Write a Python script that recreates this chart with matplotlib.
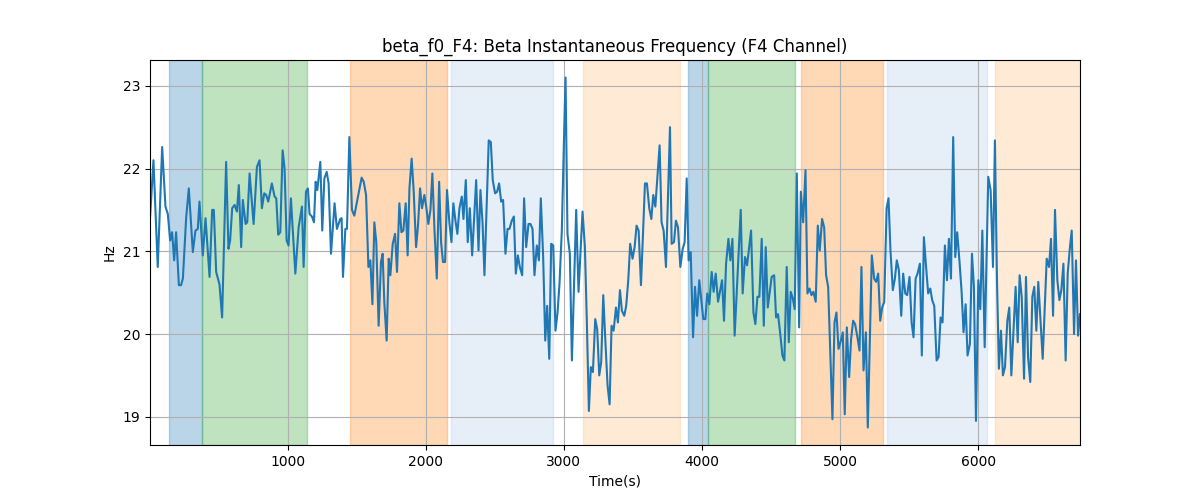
import matplotlib
matplotlib.use("Agg")
import matplotlib.pyplot as plt
import numpy as np

# Time (s) and beta instantaneous frequency (Hz)
time_s = [
    4, 29, 60, 92, 116, 133, 150, 164, 179, 193, 213, 229, 242, 266, 285, 314, 333, 350, 362, 386,
    406, 435, 454, 466, 483, 507, 526, 555, 572, 584, 599, 616, 633, 647, 664, 676, 696, 708, 725,
    754, 778, 797, 814, 831, 845, 860, 886, 906, 918, 932, 947, 964, 978, 993, 1007, 1024, 1056, 1080,
    1104, 1116, 1133, 1147, 1159, 1176, 1191, 1203, 1215, 1237, 1251, 1266, 1283, 1297, 1314, 1340,
    1357, 1381, 1391, 1401, 1418, 1430, 1447, 1466, 1483,
    1507, 1536, 1551, 1568, 1585, 1599, 1614, 1628, 1642, 1659, 1676, 1688, 1700, 1717, 1732, 1744,
    1761, 1778, 1792, 1809, 1824, 1838, 1855, 1869, 1882, 1898, 1913, 1930, 1944, 1959, 1973, 1990,
    2005, 2019, 2034, 2048, 2063, 2080, 2097, 2111, 2125, 2140, 2154, 2171, 2186, 2200, 2215, 2229, 2244,
    2261, 2273, 2290, 2304, 2319, 2336, 2365, 2382, 2396, 2411, 2425, 2456, 2471, 2485, 2502, 2517,
    2531, 2546, 2560, 2577, 2592, 2606, 2623, 2638, 2652, 2667, 2681, 2698, 2712, 2727, 2744, 2758,
    2773, 2787, 2804, 2819, 2833, 2850, 2865, 2879, 2894, 2908, 2923, 2939, 2954, 2968, 2985, 2997,
    3012,
    3026, 3043, 3058, 3089, 3106, 3135, 3152, 3166, 3181, 3195, 3210, 3227, 3241, 3256, 3270, 3285,
    3299, 3316, 3331, 3345, 3360, 3377, 3391, 3406, 3420, 3437, 3451, 3466, 3480, 3497, 3512, 3526,
    3541, 3558, 3587, 3601, 3618, 3633, 3647, 3662, 3693, 3707, 3722, 3739,
    3768,
    3780, 3797, 3811, 3826, 3843, 3860, 3874, 3889, 3903, 3918, 3935, 3949, 3964, 3980, 3995, 4009,
    4024, 4038, 4053, 4070, 4084, 4099, 4116, 4145, 4159, 4174, 4191, 4205, 4220, 4236, 4280, 4294,
    4311, 4326, 4355, 4372, 4386, 4401, 4415, 4432, 4447, 4461, 4476, 4504,
    4522, 4536, 4550, 4565, 4582, 4596, 4613, 4628, 4642, 4657, 4671, 4686, 4703, 4715, 4732, 4749,
    4763, 4778, 4792, 4806, 4823, 4838, 4852, 4869, 4884, 4898, 4913, 4927, 4944, 4959, 4973, 4988,
    5005, 5019, 5033, 5048, 5065, 5079, 5094, 5108, 5125, 5140, 5154, 5169, 5186, 5200, 5229, 5246, 5260,
    5275, 5290, 5304, 5319, 5336, 5350, 5364, 5381, 5396, 5410, 5425, 5442, 5456, 5471, 5485, 5502,
    5517, 5531, 5546, 5560, 5577, 5591, 5606, 5620, 5637, 5652, 5666, 5681, 5698, 5712, 5727, 5741,
    5758, 5773, 5787, 5802, 5818, 5833, 5847, 5864, 5879, 5893, 5908, 5922, 5939, 5954, 5968, 5983,
    6000, 6014,
    6029, 6046, 6072, 6089, 6106, 6120, 6135, 6149, 6164, 6178, 6193, 6210, 6224, 6239, 6270, 6285,
    6299, 6314, 6331, 6345, 6360, 6376, 6391, 6405, 6420, 6434, 6466, 6495, 6512, 6526, 6541, 6555,
    6572, 6587, 6601, 6616, 6632, 6647, 6661, 6676, 6693, 6707, 6722, 6736,
]

freq_hz = [
    21.4, 22.1, 20.81, 22.26, 21.54, 21.45, 21.13, 21.23, 20.89, 21.23, 20.59, 20.59, 20.67, 21.41,
    21.76, 20.99, 21.25, 21.27, 21.6, 20.95, 21.4, 20.69, 21.5, 21.5, 20.75, 20.6, 20.2, 22.08, 21.03,
    21.13, 21.52, 21.56, 21.48, 21.8, 21.05, 21.62, 21.33, 21.35, 21.94,
    21.33, 22.02, 22.1, 21.52, 21.7, 21.68, 21.6, 21.82, 21.66, 21.64, 21.2, 21.23, 22.22, 22.0, 21.13,
    21.07, 21.64, 20.73, 21.29, 21.54, 20.81, 21.72, 21.76, 21.45, 21.42, 21.35, 21.84, 21.74, 22.08,
    21.25, 21.88, 21.96, 21.82, 20.97, 21.58, 21.27, 21.39, 21.4, 20.69, 21.27, 21.27, 22.38, 21.5, 21.43,
    21.64, 21.89, 21.84, 21.68, 20.81, 20.89, 20.36, 21.35, 21.11, 20.1, 20.87, 20.97, 20.39, 19.92,
    20.91, 20.71, 21.09, 21.21, 20.75, 21.58, 21.23, 21.25, 21.58, 20.95, 21.76, 22.12, 21.72, 21.05,
    21.31, 21.76, 21.52, 21.68, 21.52, 21.33, 21.5, 21.94, 21.27, 20.67, 21.84, 21.11, 20.87, 20.87,
    21.74, 21.35, 21.11, 21.58, 21.37, 21.21, 21.52,
    21.66, 21.39, 21.86, 21.11, 21.52, 20.95, 21.86, 21.01, 21.74, 21.35, 20.71, 22.34, 22.32, 21.86,
    21.7, 21.72, 21.82, 21.6, 21.62, 20.97, 21.27, 21.27, 21.37, 21.42, 20.73, 20.95, 20.81, 20.71,
    21.64, 21.05, 21.33, 21.33, 21.27, 20.71, 21.07, 20.89, 21.64, 20.93, 19.92, 20.34, 19.7, 21.09,
    21.07, 20.04, 20.26, 20.6, 21.25, 22.1,
    23.1,
    21.21, 20.97, 19.68, 21.5, 20.51, 21.48, 21.05, 20.16, 19.07, 19.6, 19.54, 20.18, 20.06, 19.5, 19.66,
    20.47, 19.96, 19.38, 19.15, 20.1, 20.04, 20.32, 20.14, 20.53, 20.28, 20.22, 20.34, 20.65, 21.09,
    20.91, 21.05, 21.31, 21.25, 20.59, 21.82, 21.82, 21.52, 21.39, 21.68, 21.54, 22.28, 21.35, 21.25, 20.81,
    22.5,
    21.09, 21.11, 21.37, 21.29, 20.81, 21.03, 21.11, 21.88, 20.89, 20.99, 19.96, 20.57, 20.22, 20.65,
    20.41, 20.18, 20.18, 20.49, 20.36, 20.75, 20.51, 20.73, 20.39, 20.65, 20.16, 20.85, 21.15, 20.89,
    21.15, 19.98, 21.5, 20.49, 20.93, 20.83, 21.25, 20.26, 20.12, 20.45, 20.45, 21.15, 20.1, 21.05, 20.32, 20.69,
    20.71, 20.2, 20.24, 20.02, 19.74, 19.68, 20.81, 19.9, 20.51, 20.43, 20.3, 21.94, 20.08, 21.72, 21.35,
    21.98, 20.49, 20.55, 20.47, 20.51, 20.39, 21.31, 21.01, 21.39, 21.29, 20.71, 20.57, 19.84, 18.97,
    20.14, 20.26, 19.82, 19.92, 20.02, 19.03, 20.08, 19.48, 19.94, 20.16, 20.12, 19.96, 19.8, 20.81,
    19.56, 20.02, 18.87, 20.95, 20.67, 20.63,
    20.73, 20.16, 20.32, 20.39, 21.52, 21.64, 21.01, 20.53, 20.67, 20.89, 20.77, 20.22, 20.73, 20.49,
    20.47, 20.69, 20.14, 19.96, 20.67, 20.73, 20.85, 19.74, 21.17, 20.85, 20.49, 20.55, 20.41, 20.34,
    19.68, 19.72, 20.2, 20.14, 21.07, 20.65, 21.15, 20.67, 22.38, 20.93, 21.23, 20.87, 20.51, 20.02,
    20.36, 19.74, 19.88, 20.97, 20.57, 18.95, 20.65, 20.3,
    21.25, 19.84, 21.9, 21.74, 20.81, 22.34, 20.65, 19.58, 20.04, 19.5, 19.6, 20.16, 20.32, 19.5, 20.57,
    19.9, 20.71, 20.45, 19.46, 20.69, 19.72, 19.42, 20.45, 20.57, 20.04, 20.63, 19.7, 20.91, 20.81,
    21.15, 20.22, 21.5, 20.65, 20.41, 20.53, 20.85, 19.68, 20.73, 21.01, 21.25, 20.0, 20.89, 19.98, 20.24,
]

# Shaded stage intervals (start s, end s) and their colours
span_starts = [145, 384, 1449, 2181, 3138, 3899, 4043, 4717, 5341, 6123]
span_ends = [384, 1138, 2152, 2920, 3841, 4043, 4674, 5312, 6065, 6740]
span_colors = ["tab:blue", "tab:green", "tab:orange", "#aec7e8", "#ffbb78",
               "tab:blue", "tab:green", "tab:orange", "#aec7e8", "#ffbb78"]

n = min(len(time_s), len(freq_hz))
t = np.array(time_s[:n], dtype=float)
f = np.array(freq_hz[:n], dtype=float)

fig, ax = plt.subplots(figsize=(12, 5), dpi=100)
for s, e, c in zip(span_starts, span_ends, span_colors):
    ax.axvspan(s, e, color=c, alpha=0.3)
ax.plot(t, f, color="tab:blue", linewidth=1.5)
ax.set_xlim(t[0], t[-1])
ax.grid(True)
ax.set_title("beta_f0_F4: Beta Instantaneous Frequency (F4 Channel)")
ax.set_xlabel("Time(s)")
ax.set_ylabel("Hz")
fig.savefig("out.png", dpi=100)
